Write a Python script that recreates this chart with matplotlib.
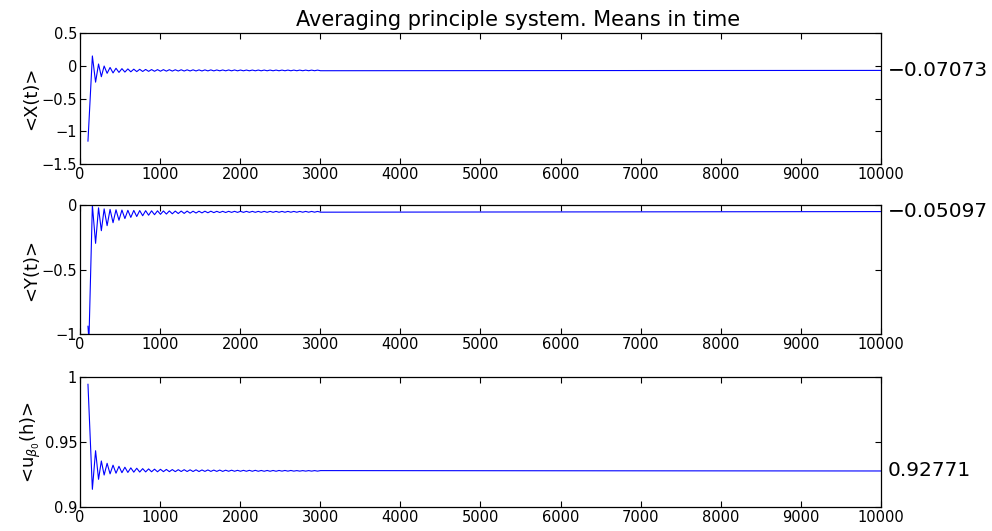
""" Averaging principle system: running means in time of X, Y and u_beta0 """

import numpy as np
import matplotlib
matplotlib.use('Agg')
import matplotlib.pyplot as plt

# time of the read-off extrema (shared by the three series)
t_ext = [100, 155, 195, 232, 267, 302, 339, 376, 413, 450, 487, 524, 561, 598,
         635, 672, 709, 746, 783, 820, 857, 894, 931, 968, 1005, 1042, 1079,
         1116, 1153, 1190, 1227, 1264, 1301, 1338, 1375, 1412, 1449, 1486, 1523,
         1560, 1597, 1634, 1671, 1708, 1745, 1782, 1819, 1856, 1893, 1930, 1967,
         2004, 2041, 2078, 2115, 2152, 2189, 2226, 2263, 2300, 2337, 2374, 2411,
         2448, 2485, 2522, 2559, 2596, 2633, 2670, 2707, 2744, 2781, 2818, 2855,
         2892, 2929, 2966, 3003, 10000]

x_mean = [-1.15, 0.15, -0.25, 0.027, -0.167, -0.004, -0.115, -0.026, -0.109,
          -0.038, -0.101, -0.044, -0.096, -0.048, -0.092, -0.052, -0.089, -0.054,
          -0.087, -0.056, -0.085, -0.058, -0.084, -0.059, -0.083, -0.059, -0.082,
          -0.060, -0.081, -0.061, -0.080, -0.061, -0.080, -0.062, -0.079, -0.062,
          -0.079, -0.063, -0.079, -0.063, -0.078, -0.063, -0.078, -0.064, -0.077,
          -0.064, -0.077, -0.064, -0.077, -0.064, -0.077, -0.065,
          -0.0768, -0.0652, -0.0767, -0.0653, -0.0766, -0.0654, -0.0765, -0.0655,
          -0.0764, -0.0656, -0.0763, -0.0657, -0.0762, -0.0658, -0.0761, -0.0659,
          -0.0760, -0.0660, -0.0759, -0.0661, -0.0758, -0.0662, -0.0757, -0.0663,
          -0.0756, -0.0664, -0.0755, -0.07073]

# Y has an extra dip just after the start
t_y = [100, 112] + t_ext[1:]
y_mean = [-0.94, -1.05, 0.0, -0.297, -0.022, -0.199, -0.030, -0.160, -0.034,
          -0.137, -0.037, -0.118, -0.039, -0.105, -0.041, -0.096, -0.042, -0.089,
          -0.043, -0.083, -0.044, -0.079, -0.045, -0.075, -0.045, -0.072, -0.046,
          -0.070, -0.046, -0.068, -0.047, -0.066, -0.047, -0.065, -0.047, -0.063,
          -0.048, -0.062, -0.048, -0.061, -0.048, -0.060, -0.048, -0.059, -0.049,
          -0.058, -0.049, -0.058, -0.049, -0.057, -0.049, -0.057, -0.049,
          -0.0568, -0.0493, -0.0567, -0.0493, -0.0566, -0.0494, -0.0565, -0.0494,
          -0.0564, -0.0494, -0.0563, -0.0495, -0.0562, -0.0495, -0.0561, -0.0495,
          -0.0560, -0.0496, -0.0559, -0.0496, -0.0558, -0.0496, -0.0557, -0.0497,
          -0.0556, -0.0497, -0.0555, -0.05097]

u_mean = [0.9944, 0.9136, 0.9433, 0.9213, 0.9354, 0.9246, 0.9336, 0.9255, 0.9322,
          0.9260, 0.9313, 0.9264, 0.9306, 0.9266, 0.9301, 0.9268, 0.9298, 0.9269,
          0.9295, 0.9270, 0.9293, 0.9271, 0.9291, 0.9271, 0.9290, 0.9272, 0.9289,
          0.9272, 0.9288, 0.9272, 0.9287, 0.9273, 0.9287, 0.9273, 0.9286, 0.9273,
          0.9286, 0.9273, 0.9285, 0.9274, 0.9285, 0.9274, 0.9284, 0.9274, 0.9284,
          0.9274, 0.9283, 0.9275, 0.9283, 0.9275, 0.9282, 0.9275,
          0.9282, 0.9275, 0.9282, 0.9275, 0.9282, 0.9275, 0.9281, 0.9275, 0.9281,
          0.9275, 0.9281, 0.9275, 0.9281, 0.9276, 0.9281, 0.9276, 0.9281, 0.9276,
          0.9280, 0.9276, 0.9280, 0.9276, 0.9280, 0.9276, 0.9280, 0.9276, 0.9280,
          0.92771]

final_labels = ['\u22120.07073', '\u22120.05097', '0.92771']
final_values = [-0.07073, -0.05097, 0.92771]

y_labels = ['<X(t)>', '<Y(t)>', r'<u$_{\beta_0}$(h)>']
y_limits = [(-1.5, 0.5), (-1, 0), (0.9, 1)]
y_ticks = [[-1.5, -1, -0.5, 0, 0.5], [-1, -0.5, 0], [0.9, 0.95, 1]]
y_ticklabels = [['\u22121.5', '\u22121', '\u22120.5', '0', '0.5'],
                ['\u22121', '\u22120.5', '0'],
                ['0.9', '0.95', '1']]
x_ticks = list(range(0, 10001, 1000))

plt.rcParams['font.family'] = ['DejaVu Sans']
fig = plt.figure(figsize=(9.92, 5.31), dpi=100)

# axes boxes in figure fractions (left, bottom, width, height)
boxes = [[0.0806, 0.6911, 0.8075, 0.2467],
         [0.0806, 0.3710, 0.8075, 0.2429],
         [0.0806, 0.0452, 0.8075, 0.2448]]

series = [(t_ext, x_mean), (t_y, y_mean), (t_ext, u_mean)]

for i in range(3):
    ax = fig.add_axes(boxes[i])
    t, v = series[i]
    ax.plot(t, v, color='blue', lw=0.8)
    ax.set_xlim(0, 10000)
    ax.set_ylim(*y_limits[i])
    ax.set_xticks(x_ticks)
    ax.set_xticklabels([str(x) for x in x_ticks], fontsize=10.5)
    ax.set_yticks(y_ticks[i])
    ax.set_yticklabels(y_ticklabels[i], fontsize=10.5)
    ax.tick_params(direction='in', top=True, right=True, length=4, width=0.8, pad=2)
    for s in ax.spines.values():
        s.set_linewidth(0.9)
    ax.set_ylabel(y_labels[i], fontsize=13, labelpad=1)
    # final mean value written at the right of each panel
    ax.text(1.008, final_values[i], final_labels[i], transform=ax.get_yaxis_transform(),
            fontsize=14.5, va='center', ha='left', clip_on=False)

fig.axes[0].text(0.547, 1.02, 'Averaging principle system. Means in time',
                 transform=fig.axes[0].transAxes, fontsize=15, ha='center', va='bottom')

fig.savefig('out.png', dpi=100)
